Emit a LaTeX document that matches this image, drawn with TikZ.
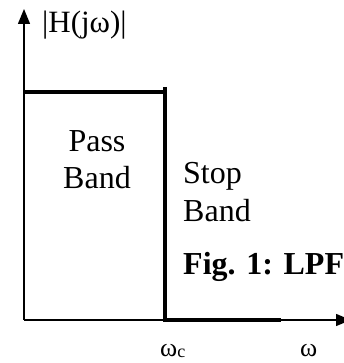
\documentclass[tikz,border=0pt]{standalone}
\usepackage{fontspec}
\setmainfont{Liberation Serif}
\usetikzlibrary{arrows.meta,positioning}

\begin{document}
\begin{tikzpicture}[x=1pt,y=1pt,>={Triangle[length=15pt,width=12pt]},
		axis/.style={->,line width=1.3pt},
		band/.style={line width=3.5pt},
		lbl/.style={font=\fontsize{32}{37}\selectfont,inner sep=0pt},
		freq/.style={font=\fontsize{26}{30}\selectfont,inner sep=0pt,anchor=base west}]
	\useasboundingbox (0,0) rectangle (344,363);
	% axes
	\coordinate (o) at (24,43);
	\coordinate (ytip) at (24,354);
	\coordinate (xtip) at (351,43);
	\draw[axis] (o) -- (ytip);
	\draw[axis] (o) -- (xtip);
	% ideal response
	\coordinate (pl) at (24,271);
	\coordinate (wc) at (165,43);
	\coordinate (cut) at (165,276);
	\coordinate (se) at (281,43);
	\draw[band] (pl) -- (165,271);
	\draw[band] (cut) -- (wc) -- (se);
	% labels
	\node[lbl,font=\fontsize{31}{35}\selectfont,anchor=base west] (mag) at (42,330) {|H(jω)|};
	\node[lbl,anchor=base,align=center] (pass) at (97,174) {Pass\\Band};
	\node[lbl,anchor=base west,align=left,font=\fontsize{32}{38}\selectfont] (stop) at (183,141) {Stop\\Band};
	\node[lbl,anchor=base west,font=\fontsize{32}{37}\selectfont\bfseries] (fig) at (183,88) {Fig. 1: LPF};
	\node[freq] (wclbl) at (160,6) {ω\raisebox{-1pt}{\fontsize{18}{20}\selectfont c}};
	\node[freq] (wlbl) at (300,6) {ω};
\end{tikzpicture}
\end{document}
